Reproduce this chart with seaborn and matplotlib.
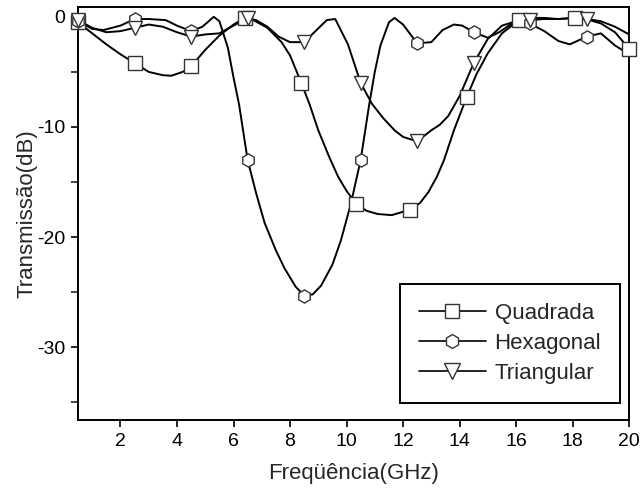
import numpy as np
import pandas as pd
import matplotlib
matplotlib.use("Agg")
import matplotlib.pyplot as plt
from matplotlib.lines import Line2D
from matplotlib.ticker import MultipleLocator
import seaborn as sns

# ---- data ----
quad_x = [0.5, 1.0, 1.5, 2.0, 2.5, 3.0, 3.5, 3.8, 4.2, 4.5, 5.0, 5.5, 6.0, 6.4, 6.7, 7.2, 7.7,
          8.0, 8.4, 8.7, 9.0, 9.4, 9.7, 10.0, 10.35, 10.7, 11.1, 11.6, 12.25, 12.6, 12.9, 13.2,
          13.45, 13.8, 14.25, 14.6, 15.0, 15.5, 16.1, 16.6, 17.0, 17.5, 18.1, 18.6, 19.0, 19.5, 20.0]
quad_y = [-0.5, -1.5, -2.5, -3.4, -4.2, -5.0, -5.3, -5.35, -5.0, -4.5, -3.0, -1.7, -0.7, -0.1,
          -0.3, -1.0, -2.3, -3.5, -6.0, -8.0, -10.3, -12.8, -14.5, -15.8, -17.0, -17.6, -17.9,
          -18.0, -17.5, -16.9, -15.9, -14.5, -13.0, -10.3, -7.3, -5.2, -3.3, -1.5, -0.3, -0.1,
          -0.1, -0.2, -0.1, -0.3, -0.6, -1.4, -2.9]
quad_mx = [0.5, 2.5, 4.5, 6.4, 8.4, 10.35, 12.25, 14.25, 16.1, 18.1, 20.0]
quad_my = [-0.5, -4.2, -4.5, -0.1, -6.0, -17.0, -17.5, -7.3, -0.3, -0.1, -2.9]

hex_x = [0.5, 1.0, 1.4, 2.0, 2.5, 3.0, 3.6, 4.0, 4.5, 4.9, 5.3, 5.5, 5.8, 6.0, 6.2, 6.5, 6.8,
         7.1, 7.5, 7.8, 8.2, 8.5, 8.8, 9.1, 9.5, 9.8, 10.15, 10.5, 10.8, 11.0, 11.2, 11.5, 11.7,
         12.0, 12.5, 13.0, 13.4, 13.8, 14.1, 14.5, 15.0, 15.4, 15.8, 16.4, 17.0, 17.5, 17.9,
         18.5, 19.0, 19.5, 20.0]
hex_y = [-0.4, -1.1, -1.2, -0.8, -0.2, -0.2, -0.3, -0.8, -1.3, -0.9, 0.0, -0.4, -2.8, -5.5,
         -8.0, -13.0, -16.0, -18.7, -21.2, -22.8, -24.5, -25.3, -25.2, -24.4, -22.5, -20.3,
         -17.0, -13.0, -8.0, -5.0, -2.6, -0.5, -0.1, -0.7, -2.4, -2.3, -1.2, -0.7, -0.8, -1.4,
         -1.9, -1.4, -0.7, -0.5, -1.3, -2.2, -2.5, -1.8, -1.5, -2.6, -3.4]
hex_mx = [0.5, 2.5, 4.5, 6.5, 8.5, 10.5, 12.5, 14.5, 16.5, 18.5]
hex_my = [-0.4, -0.2, -1.3, -13.0, -25.3, -13.0, -2.4, -1.4, -0.6, -1.8]

tri_x = [0.5, 1.0, 1.5, 2.0, 2.5, 3.0, 3.5, 4.0, 4.5, 5.0, 5.5, 6.0, 6.5, 6.8, 7.2, 7.6, 8.0,
         8.5, 8.9, 9.3, 9.6, 10.05, 10.5, 10.9, 11.3, 11.7, 12.0, 12.5, 13.0, 13.3, 13.6, 14.0,
         14.5, 15.0, 15.5, 16.0, 16.5, 17.0, 17.5, 18.0, 18.5, 19.0, 19.5, 20.0]
tri_y = [-0.3, -1.0, -1.4, -1.3, -1.0, -0.7, -0.9, -1.4, -1.8, -1.6, -1.5, -0.8, -0.1, -0.3,
         -0.9, -1.8, -2.3, -2.3, -1.3, -0.3, -0.2, -2.5, -6.0, -7.9, -9.2, -10.3, -10.9, -11.3,
         -10.3, -9.8, -9.0, -7.2, -4.2, -2.0, -0.8, -0.4, -0.3, -0.2, -0.2, -0.1, -0.2, -0.4,
         -0.9, -1.6]
tri_mx = [0.5, 2.5, 4.5, 6.5, 8.5, 10.5, 12.5, 14.5, 16.5, 18.5]
tri_my = [-0.3, -1.0, -1.8, -0.1, -2.3, -6.0, -11.3, -4.2, -0.3, -0.2]

series = ["Quadrada", "Hexagonal", "Triangular"]
x_ticks = [2, 4, 6, 8, 10, 12, 14, 16, 18, 20]
y_ticks = [0, -10, -20, -30]

# ---- style ----
sns.set_style("ticks")
plt.rcParams["font.family"] = ["Liberation Sans", "DejaVu Sans"]
plt.rcParams["axes.unicode_minus"] = False

fig = plt.figure(figsize=(6.4, 4.93), dpi=100)
ax = fig.add_axes([0.122, 0.148, 0.861, 0.838])

df = pd.concat([
    pd.DataFrame({"f": quad_x, "t": quad_y, "s": series[0]}),
    pd.DataFrame({"f": hex_x, "t": hex_y, "s": series[1]}),
    pd.DataFrame({"f": tri_x, "t": tri_y, "s": series[2]}),
], ignore_index=True)

sns.lineplot(data=df, x="f", y="t", hue="s", palette=["black"] * 3, sort=False,
             estimator=None, linewidth=1.4, legend=False, ax=ax, zorder=2)

mk = dict(ls="none", mfc="white", mec="#333333", mew=1.0, zorder=3, clip_on=False)
ax.plot(quad_mx, quad_my, marker="s", ms=9.5, **mk)
ax.plot(hex_mx, hex_my, marker="h", ms=9.5, **mk)
ax.plot(tri_mx, tri_my, marker="v", ms=10.5, **mk)

ax.set_xlim(0.5, 20)
ax.set_ylim(-36.6, 0.9)
ax.set_xticks(x_ticks)
ax.set_yticks(y_ticks)
ax.yaxis.set_minor_locator(MultipleLocator(5))
ax.tick_params(axis="both", which="major", direction="out", length=5, width=1.2,
               labelsize=14, colors="black", pad=4)
ax.tick_params(axis="y", which="minor", direction="out", length=5, width=1.2)
for sp in ax.spines.values():
    sp.set_visible(True)
    sp.set_linewidth(1.4)
    sp.set_color("black")

ax.set_xlabel("Freqüência(GHz)", fontsize=16, labelpad=10)
ax.set_ylabel("Transmissão(dB)", fontsize=16, labelpad=0)

handles = [
    Line2D([], [], color="black", lw=1.2, marker="s", ms=10, mfc="white", mec="#333333"),
    Line2D([], [], color="black", lw=1.2, marker="h", ms=10, mfc="white", mec="#333333"),
    Line2D([], [], color="black", lw=1.2, marker="v", ms=11, mfc="white", mec="#333333"),
]
leg = ax.legend(handles, series, loc="lower right", fontsize=16, handlelength=3.0,
                handletextpad=0.4, borderaxespad=0, fancybox=False, frameon=True,
                borderpad=0.85, labelspacing=0.42, bbox_to_anchor=(0.9837, 0.041))
leg.get_frame().set_edgecolor("black")
leg.get_frame().set_linewidth(1.4)
leg.get_frame().set_alpha(1)

fig.savefig("out.png", dpi=100)
